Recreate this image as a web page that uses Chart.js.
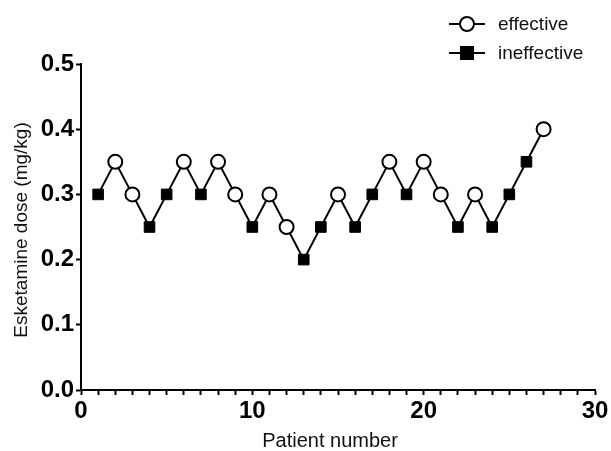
<!DOCTYPE html>
<html>
<head>
<meta charset="utf-8">
<script src="https://cdn.jsdelivr.net/npm/chart.js@4/dist/chart.umd.min.js"></script>
<style>
html,body{margin:0;padding:0;background:#fff;}
#wrap{width:611px;height:451px;position:relative;}
</style>
</head>
<body>
<div id="wrap"><canvas id="c" width="611" height="451"></canvas></div>
<script>
const patients = [1,2,3,4,5,6,7,8,9,10,11,12,13,14,15,16,17,18,19,20,21,22,23,24,25,26,27];
const doses = [0.30,0.35,0.30,0.25,0.30,0.35,0.30,0.35,0.30,0.25,0.30,0.25,0.20,0.25,0.30,0.25,0.30,0.35,0.30,0.35,0.30,0.25,0.30,0.25,0.30,0.35,0.40];
const outcomes = ['ineffective','effective','effective','ineffective','ineffective','effective','ineffective','effective','effective','ineffective','effective','effective','ineffective','ineffective','effective','ineffective','ineffective','effective','ineffective','effective','effective','ineffective','effective','ineffective','ineffective','ineffective','effective'];
const seriesNames = ['effective','ineffective'];
const xTickLabels = [0,10,20,30];
const yTickLabels = ['0.0','0.1','0.2','0.3','0.4','0.5'];
const xTitle = 'Patient number';
const yTitle = 'Esketamine dose (mg/kg)';

const allPts = patients.map((p,i)=>({x:p,y:doses[i]}));
const effPts = allPts.filter((d,i)=>outcomes[i]==='effective');
const ineffPts = allPts.filter((d,i)=>outcomes[i]==='ineffective');

const FONT = '"Liberation Sans", Arial, sans-serif';

const decorPlugin = {
  id:'decor',
  afterDraw(chart){
    const ctx = chart.ctx;
    ctx.save();
    // legend
    const rows = [
      {name:seriesNames[0], y:24, style:'circle'},
      {name:seriesNames[1], y:53, style:'rect'}
    ];
    rows.forEach(r=>{
      ctx.strokeStyle='#000'; ctx.lineWidth=2;
      ctx.beginPath(); ctx.moveTo(449,r.y); ctx.lineTo(485,r.y); ctx.stroke();
      if(r.style==='circle'){
        ctx.beginPath(); ctx.arc(467,r.y,7,0,Math.PI*2);
        ctx.fillStyle='#fff'; ctx.fill(); ctx.stroke();
      } else {
        ctx.fillStyle='#000'; ctx.fillRect(460,r.y-7,14,14);
      }
      ctx.fillStyle='#111';
      ctx.font='19px '+FONT;
      ctx.textBaseline='middle'; ctx.textAlign='left';
      ctx.fillText(r.name,498,r.y+1);
    });
    // axis titles
    ctx.fillStyle='#111';
    ctx.textAlign='center'; ctx.textBaseline='middle';
    ctx.font='20px '+FONT;
    ctx.fillText(xTitle,330,441);
    ctx.translate(22,230);
    ctx.rotate(-Math.PI/2);
    ctx.font='19px '+FONT;
    ctx.fillText(yTitle,0,0);
    ctx.restore();
  }
};

new Chart(document.getElementById('c'),{
  type:'scatter',
  data:{datasets:[
    {label:'line',data:allPts,showLine:true,borderColor:'#000',borderWidth:2,pointRadius:0,order:3,clip:false},
    {label:seriesNames[0],data:effPts,pointStyle:'circle',pointRadius:7,pointHoverRadius:7,pointBackgroundColor:'#fff',pointBorderColor:'#000',pointBorderWidth:2,order:1,clip:false},
    {label:seriesNames[1],data:ineffPts,pointStyle:'rect',pointRadius:7.5,pointHoverRadius:7.5,pointBackgroundColor:'#000',pointBorderColor:'#000',pointBorderWidth:1,order:2,clip:false}
  ]},
  options:{
    responsive:false,
    animation:false,
    layout:{padding:{top:64,right:16,left:0,bottom:0}},
    plugins:{legend:{display:false},tooltip:{enabled:false}},
    scales:{
      x:{
        type:'linear',min:0,max:30,
        afterFit(s){s.height=61;},
        border:{display:true,color:'#000',width:2},
        grid:{display:true,drawOnChartArea:false,tickLength:5,tickWidth:2,tickColor:'#000'},
        ticks:{stepSize:1,autoSkip:false,maxRotation:0,color:'#000',padding:2,
          font:{family:FONT,size:24,weight:'bold'},
          callback:(v)=>xTickLabels.includes(v)?String(v):''},
        title:{display:false}
      },
      y:{
        type:'linear',min:0,max:0.5,
        afterFit(s){s.width=81;},
        border:{display:true,color:'#000',width:2},
        grid:{display:true,drawOnChartArea:false,tickLength:5,tickWidth:2,tickColor:'#000'},
        ticks:{stepSize:0.1,color:'#000',padding:2,
          font:{family:FONT,size:24,weight:'bold'},
          callback:(v)=>yTickLabels[Math.round(v*10)]},
        title:{display:false}
      }
    }
  },
  plugins:[decorPlugin]
});
</script>
</body>
</html>
